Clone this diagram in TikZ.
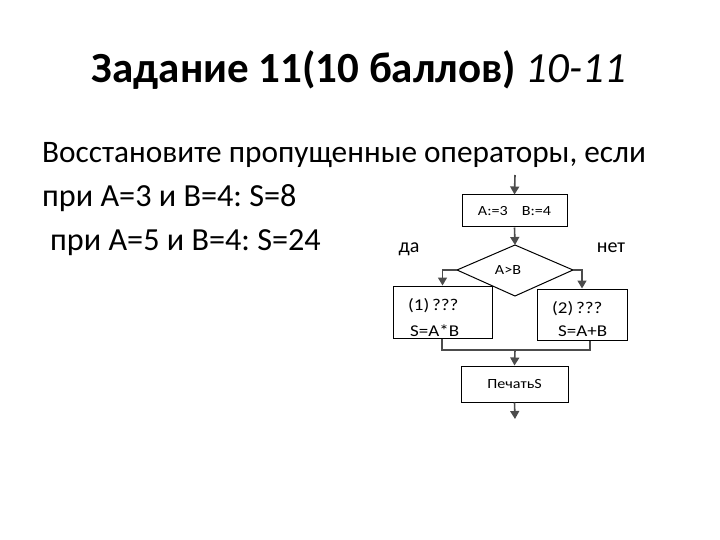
\documentclass[tikz,border=0pt]{standalone}
\usepackage{fontspec}
\setmainfont{Carlito}
\newfontfamily\chartfont{Carlito}[FakeStretch=1.15]
\usetikzlibrary{arrows.meta,shapes.geometric}
\frenchspacing
\begin{document}
\begin{tikzpicture}[x=1pt,y=-1pt,
  box/.style={draw=black,line width=1pt,inner sep=0pt},
  conn/.style={draw=black!70,line width=1.6pt},
  arr/.style={conn,-{Triangle[width=9pt,length=8pt]},shorten >=0pt},
  small/.style={font=\chartfont\fontsize{14}{16}\selectfont},
  mid/.style={font=\chartfont\fontsize{16.5}{18}\selectfont,anchor=base west,inner sep=0pt},
  body/.style={anchor=base west,inner sep=0pt,font=\fontsize{31.3}{34}\selectfont},
  bodyb/.style={anchor=base west,inner sep=0pt,font=\fontsize{32.2}{34}\selectfont}]
\useasboundingbox (0,0) rectangle (720,540);
% title
\node[anchor=base,font=\fontsize{43}{46}\selectfont] (title) at (359,83) {\textbf{Задание 11(10 баллов)} \textit{10-11}};
% body text
\node[body] (l1) at (42,163) {Восстановите пропущенные операторы, если};
\node[bodyb] (l2) at (42,207) {при A=3 и B=4: S=8};
\node[bodyb] (l3) at (50,251) {при A=5 и B=4: S=24};
% flowchart
\coordinate (start) at (515,175);
\node[box,minimum width=105pt,minimum height=32pt,small] (init) at (514.5,211) {A:=3\quad B:=4};
\coordinate (dt) at (515,245);
\coordinate (dl) at (457,270);
\coordinate (dr) at (573,270);
\coordinate (db) at (515,296);
\draw[line width=1pt] (dt) -- (dr) -- (db) -- (dl) -- cycle;
\node[small] (cond) at (508,270) {A>B};
\node[box,minimum width=99pt,minimum height=52pt] (b1) at (442.5,312) {};
\node[mid] (b1a) at (408,310) {(1)\,???};
\node[mid] (b1b) at (410,336) {S=A*B};
\node[box,minimum width=90pt,minimum height=51pt] (b2) at (582,314.5) {};
\node[mid] (b2a) at (552,313) {(2)\,???};
\node[mid] (b2b) at (558,336) {S=A+B};
\node[box,minimum width=107pt,minimum height=36pt,small] (out) at (514.5,384) {ПечатьS};
\coordinate (end) at (515,419);
\coordinate (jl) at (442,350);
\coordinate (jr) at (590,350);
\coordinate (jm) at (515,350);
\node[anchor=base,inner sep=0pt,font=\fontsize{20}{22}\selectfont] (yes) at (409,252) {да};
\node[anchor=base,inner sep=0pt,font=\fontsize{20}{22}\selectfont] (no) at (611,252) {нет};
% connectors
\draw[arr] (start) -- (init.north);
\draw[arr] (init.south) -- (dt);
\draw[arr] (dl) -| (b1.north);
\draw[arr] (dr) -| (b2.north);
\draw[conn] (b1.south -| jl) -- (jl) -- (jr) -- (b2.south -| jr);
\draw[arr] (jm) -- (out.north);
\draw[arr] (out.south) -- (end);
\end{tikzpicture}
\end{document}
